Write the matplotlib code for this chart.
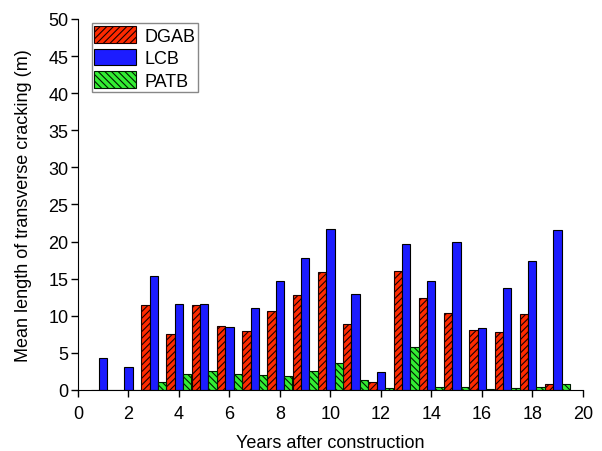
import numpy as np
import matplotlib
matplotlib.use("Agg")
import matplotlib.pyplot as plt

plt.rcParams['font.family'] = ['Liberation Sans', 'DejaVu Sans']
plt.rcParams['hatch.linewidth'] = 0.8

# Mean length of transverse cracking (m) per year after construction
years = np.arange(1, 20)
dgab = [0, 0, 11.4, 7.5, 11.5, 8.6, 8.0, 10.7, 12.8, 15.9,
        8.9, 1.1, 16.0, 12.4, 10.4, 8.1, 7.8, 10.2, 0.8]
lcb = [4.3, 3.1, 15.3, 11.6, 11.6, 8.5, 11.1, 14.7, 17.8, 21.7,
       13.0, 2.4, 19.7, 14.7, 20.0, 8.4, 13.7, 17.4, 21.6]
patb = [0, 0, 1.1, 2.1, 2.6, 2.2, 2.0, 1.9, 2.6, 3.7,
        1.3, 0.2, 5.8, 0.4, 0.4, 0.1, 0.3, 0.4, 0.8]

fig = plt.figure(figsize=(6.02, 4.52), dpi=100)
ax = fig.add_axes([0.1296, 0.135, 0.8384, 0.8208])

w = 0.33
ax.bar(years - w, dgab, w, color='#ff2a00', edgecolor='#1a0000',
       linewidth=0.8, hatch='/////', label='DGAB')
ax.bar(years, lcb, w, color='#1c1cff', edgecolor='#000000',
       linewidth=0.8, label='LCB')
ax.bar(years + w, patb, w, color='#33ee33', edgecolor='#001a00',
       linewidth=0.8, hatch='\\\\\\\\\\', label='PATB')

ax.set_xlim(0, 20)
ax.set_ylim(0, 50)
ax.set_xticks(range(0, 21, 2))
ax.set_yticks(range(0, 51, 5))
ax.spines['top'].set_visible(False)
ax.spines['right'].set_visible(False)
ax.tick_params(direction='out', length=5, width=1, labelsize=13)
ax.tick_params(axis='x', pad=5.5)
ax.tick_params(axis='y', pad=2)
ax.set_xlabel('Years after construction', fontsize=13, labelpad=9)
ax.set_ylabel('Mean length of transverse cracking (m)', fontsize=13,
              labelpad=12)

ax.legend(loc='upper left', bbox_to_anchor=(0.027, 0.988), fontsize=13,
          fancybox=False, edgecolor='#888888', framealpha=1,
          handlelength=2.3, handleheight=1.05, handletextpad=0.45,
          labelspacing=0.22, borderpad=0.15, borderaxespad=0.0)

fig.savefig('out.png', dpi=100)
